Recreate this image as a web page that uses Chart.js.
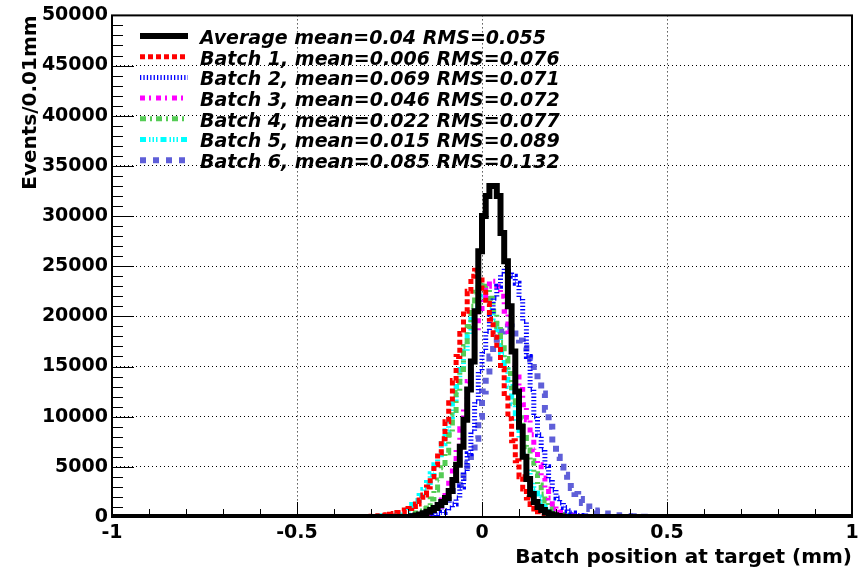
<!DOCTYPE html>
<html>
<head>
<meta charset="utf-8">
<title>Batch position at target</title>
<script src="https://cdn.jsdelivr.net/npm/chart.js@4.4.1/dist/chart.umd.min.js"></script>
<style>
  html, body { margin: 0; padding: 0; background: #ffffff; }
  #chart { display: block; }
</style>
</head>
<body>
<canvas id="chart" width="864" height="576"></canvas>
<script>
/**
 * Histogram data, 0.01 mm bins. Each series lists its bin contents
 * starting from the left edge given by its *Start value; all other bins are 0.
 */
const binWidth = 0.01;
const xTicks = [-1, -0.5, 0, 0.5, 1];

const seriesLabels = [
  'Average mean=0.04 RMS=0.055',
  'Batch 1, mean=0.006 RMS=0.076',
  'Batch 2, mean=0.069 RMS=0.071',
  'Batch 3, mean=0.046 RMS=0.072',
  'Batch 4, mean=0.022 RMS=0.077',
  'Batch 5, mean=0.015 RMS=0.089',
  'Batch 6, mean=0.085 RMS=0.132'
];

const averageStart = -0.18;
const averageValues = [
  80, 150, 250, 380, 520, 700, 900, 1200, 1500, 1900,
  2600, 3700, 5200, 7000, 9700, 12700, 15500, 20500, 26500, 30000,
  32000, 33000, 33000, 32000, 28300, 25500, 21000, 16500, 12500, 9000,
  6000, 3800, 2300, 1500, 1000, 700, 450, 280, 170, 100, 60
];

const batch1Start = -0.30;
const batch1Values = [
  50, 70, 100, 130, 170, 220, 280, 360, 450, 560,
  700, 850, 1050, 1300, 1700, 2200, 3000, 4000, 5200, 6400,
  7800, 9500, 11400, 13600, 16000, 18300, 20500, 22500, 24000, 24600,
  24000, 22800, 21300, 19700, 18200, 16700, 14800, 12300, 9800, 7600,
  5600, 4000, 2800, 1900, 1250, 800, 520, 330, 210, 130, 80, 50
];

const batch2Start = -0.14;
const batch2Values = [
  80, 130, 200, 300, 450, 650, 900, 1300, 1900, 3000,
  4500, 6300, 8500, 11500, 14500, 16500, 18500, 20300, 21800, 23000,
  24200, 24800, 24500, 24000, 23300, 21800, 19500, 16000, 12700, 10000,
  8200, 6700, 5000, 3700, 2700, 1900, 1400, 950, 620, 400,
  250, 150, 90, 50
];

const batch3Start = -0.16;
const batch3Values = [
  100, 180, 300, 480, 700, 1100, 1700, 2600, 3700, 5000,
  6800, 8800, 11000, 13500, 16000, 18500, 20500, 22000, 23000, 23500,
  23500, 23000, 22000, 20500, 18500, 16500, 14500, 12700, 11200, 9700,
  8200, 6700, 5200, 3900, 2800, 1900, 1300, 850, 550, 340,
  200, 120, 70
];

const batch4Start = -0.20;
const batch4Values = [
  100, 170, 260, 400, 600, 850, 1200, 1800, 2700, 3700,
  4900, 6400, 8200, 10200, 12400, 14700, 17000, 19000, 21000, 22400,
  23200, 23300, 22800, 21800, 20500, 19000, 17400, 15800, 14300, 12900,
  11400, 9900, 8400, 7000, 5600, 4300, 3200, 2300, 1600, 1050,
  680, 420, 250, 150, 80
];

const batch5Start = -0.28;
const batch5Values = [
  60, 90, 120, 160, 210, 280, 380, 520, 700, 950,
  1250, 1650, 2150, 2750, 3450, 4300, 5200, 6200, 7300, 8600,
  10000, 11500, 13000, 14700, 16500, 18200, 19700, 21000, 21800, 22000,
  21700, 20800, 19500, 18000, 16300, 14700, 13000, 11300, 9500, 7800,
  6200, 4800, 3600, 2700, 2000, 1400, 1000, 700, 500, 350,
  250, 160, 100, 60
];

const batch6Start = -0.18;
const batch6Values = [
  110, 170, 240, 330, 450, 600, 800, 1050, 1350, 1700,
  2100, 2600, 3200, 3900, 4600, 5300, 6300, 7800, 10000, 12500,
  14500, 16000, 17100, 17900, 18500, 18900, 19000, 18800, 18300, 17600,
  16900, 16300, 15700, 14500, 13500, 12300, 10700, 9000, 7400, 6000,
  5000, 4200, 3500, 2900, 2300, 1800, 1400, 1050, 800, 650,
  520, 420, 340, 280, 220, 180, 140, 110, 90, 70,
  55, 40, 30
];

const seriesColors = ['#000000', '#ff0000', '#0000ff', '#ff00ff', '#55cc55', '#00ffff', '#5f5fd8'];
const seriesDashes = [[], [5, 3], [1.3, 2.1], [5, 4, 2, 5], [6, 4, 2, 4], [6, 3, 1.5, 2, 1.5, 2, 1.5, 3], [6, 7]];
const seriesWidths = [6, 5, 5, 5, 5, 5, 6];

/**
 * Expand a partial bin list into points covering the full -1..1 range
 */
function histPoints(start, values) {
  const nBins = Math.round(2 / binWidth);
  const first = Math.round((start + 1) / binWidth);
  const points = [];
  for (let k = 0; k <= nBins; k++) {
    const i = k - first;
    const y = (k < nBins && i >= 0 && i < values.length) ? values[i] : 0;
    points.push({ x: Math.round((-1 + k * binWidth) * 100) / 100, y });
  }
  return points;
}

const seriesData = [
  histPoints(averageStart, averageValues),
  histPoints(batch1Start, batch1Values),
  histPoints(batch2Start, batch2Values),
  histPoints(batch3Start, batch3Values),
  histPoints(batch4Start, batch4Values),
  histPoints(batch5Start, batch5Values),
  histPoints(batch6Start, batch6Values)
];

const FONT = 'DejaVu Sans';

/**
 * Frame, inward tick marks and the in-frame legend, ROOT style
 */
const rootFramePlugin = {
  id: 'rootFrame',
  afterDraw(chart) {
    const { ctx, chartArea: a, scales: { x, y } } = chart;
    ctx.save();
    ctx.strokeStyle = '#000000';

    // y ticks: minor every 1000, major every 5000
    ctx.lineWidth = 1;
    for (let v = 0; v <= 50000; v += 1000) {
      const py = Math.round(y.getPixelForValue(v)) + 0.5;
      const len = v % 5000 === 0 ? 22 : 11;
      ctx.beginPath();
      ctx.moveTo(a.left, py);
      ctx.lineTo(a.left + len, py);
      ctx.stroke();
    }
    // x ticks: minor every 0.1, major every 0.5
    for (let k = -10; k <= 10; k++) {
      const px = Math.round(x.getPixelForValue(k / 10)) + 0.5;
      const len = k % 5 === 0 ? 15 : 8;
      ctx.beginPath();
      ctx.moveTo(px, a.bottom);
      ctx.lineTo(px, a.bottom - len);
      ctx.stroke();
    }

    // frame
    ctx.lineWidth = 2;
    ctx.strokeRect(a.left, a.top, a.right - a.left, a.bottom - a.top);

    // legend
    chart.data.datasets.forEach((ds, i) => {
      const rowY = 36 + i * 20.7;
      ctx.save();
      ctx.strokeStyle = ds.borderColor;
      ctx.lineWidth = ds.borderWidth;
      ctx.setLineDash(ds.borderDash || []);
      ctx.beginPath();
      ctx.moveTo(140, rowY);
      ctx.lineTo(188, rowY);
      ctx.stroke();
      ctx.restore();

      ctx.fillStyle = '#000000';
      ctx.font = `italic bold 19px "${FONT}"`;
      ctx.textBaseline = 'middle';
      ctx.textAlign = 'left';
      ctx.fillText(ds.label, 200, rowY + 3);
    });
    ctx.restore();
  }
};

const tickFont = { family: FONT, size: 19, weight: 'bold' };
const titleFont = { family: FONT, size: 20, weight: 'bold' };

new Chart(document.getElementById('chart'), {
  type: 'line',
  data: {
    datasets: seriesLabels.map((label, i) => ({
      label,
      data: seriesData[i],
      borderColor: seriesColors[i],
      backgroundColor: seriesColors[i],
      borderWidth: seriesWidths[i],
      borderDash: seriesDashes[i],
      borderCapStyle: 'butt',
      borderJoinStyle: 'miter',
      stepped: 'after',
      pointRadius: 0,
      fill: false,
      clip: 0
    }))
  },
  options: {
    responsive: false,
    animation: false,
    devicePixelRatio: 1,
    layout: { padding: { top: 13, right: 12, left: 0, bottom: 0 } },
    plugins: {
      legend: { display: false },
      tooltip: { enabled: false }
    },
    scales: {
      x: {
        type: 'linear',
        min: -1,
        max: 1,
        afterFit: scale => { scale.height = 59; },
        afterBuildTicks: scale => { scale.ticks = xTicks.map(v => ({ value: v })); },
        ticks: {
          color: '#000000',
          font: tickFont,
          padding: 5,
          maxRotation: 0,
          autoSkip: false,
          callback: v => String(v)
        },
        grid: { color: '#000000', lineWidth: 1, drawTicks: false },
        border: { display: false, dash: [1, 3] },
        title: {
          display: true,
          text: 'Batch position at target (mm)',
          align: 'end',
          color: '#000000',
          font: titleFont,
          padding: { top: 0, bottom: 6 }
        }
      },
      y: {
        min: 0,
        max: 50000,
        afterFit: scale => { scale.width = 112; },
        ticks: {
          stepSize: 5000,
          color: '#000000',
          font: tickFont,
          padding: 4,
          callback: v => String(v)
        },
        grid: { color: '#000000', lineWidth: 1, drawTicks: false },
        border: { display: false, dash: [1, 3] },
        title: {
          display: true,
          text: 'Events/0.01mm',
          align: 'end',
          color: '#000000',
          font: titleFont,
          padding: { top: 19, bottom: 0 }
        }
      }
    }
  },
  plugins: [rootFramePlugin]
});
</script>
</body>
</html>
